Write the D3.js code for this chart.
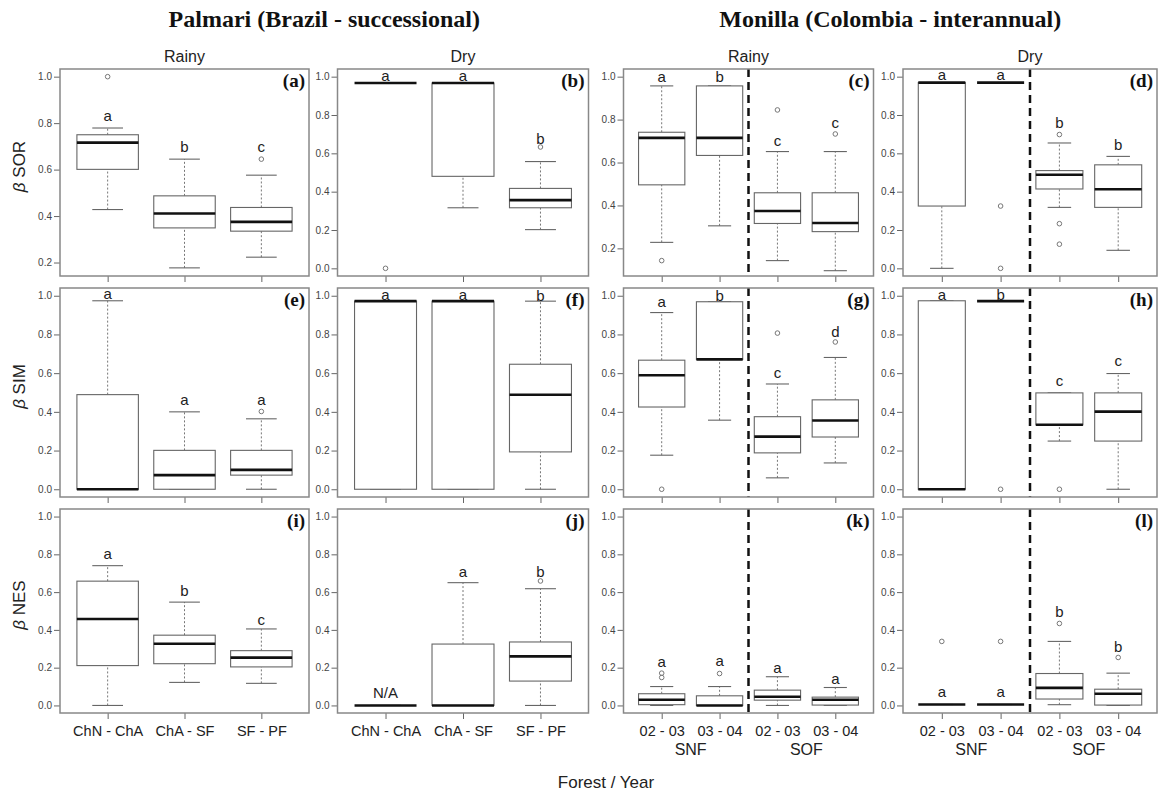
<!DOCTYPE html>
<html>
<head>
<meta charset="utf-8">
<script src="https://cdn.jsdelivr.net/npm/d3@7"></script>
<style>
  body { margin: 0; background: #fff; }
  text { font-family: "Liberation Sans", Arial, sans-serif; }
</style>
</head>
<body>
<div id="chart"></div>
<script>
// ---- data ----
const sites = ['Palmari (Brazil - successional)', 'Monilla (Colombia - interannual)'];
const seasons = ['Rainy', 'Dry', 'Rainy', 'Dry'];
const indices = ['SOR', 'SIM', 'NES'];
const panelTags = ['(a)', '(b)', '(c)', '(d)', '(e)', '(f)', '(g)', '(h)', '(i)', '(j)', '(k)', '(l)'];
const palmariPairs = ['ChN - ChA', 'ChA - SF', 'SF - PF'];
const monillaYears = ['02 - 03', '03 - 04', '02 - 03', '03 - 04'];
const monillaForests = ['SNF', 'SOF'];
const yTickValues = [0, 0.2, 0.4, 0.6, 0.8, 1.0];

// box stats: [lower whisker, q1, median, q3, upper whisker]
const boxA = [[0.428, 0.601, 0.716, 0.750, 0.779], [0.177, 0.349, 0.411, 0.487, 0.645], [0.223, 0.335, 0.375, 0.437, 0.576]];
const outA = [[1.0], [], [0.645]];
const tagA = [['a', 0.831], ['b', 0.699], ['c', 0.699]];

const boxB = [[0.967, 0.967, 0.967, 0.967, 0.967], [0.316, 0.48, 0.967, 0.967, 0.967], [0.202, 0.316, 0.356, 0.417, 0.557]];
const outB = [[0], [], [0.633]];
const tagB = [['a', 1.003], ['a', 1.003], ['b', 0.677]];

const boxC = [[0.228, 0.496, 0.715, 0.741, 0.957], [0.305, 0.633, 0.715, 0.957, 0.957], [0.143, 0.316, 0.374, 0.459, 0.651], [0.096, 0.278, 0.318, 0.459, 0.651]];
const outC = [[0.143], [], [0.845], [0.733]];
const tagC = [['a', 0.998], ['b', 0.998], ['c', 0.699], ['c', 0.784]];

const boxD = [[0, 0.325, 0.969, 0.969, 0.969], [0.969, 0.969, 0.969, 0.969, 0.969], [0.318, 0.414, 0.488, 0.51, 0.654], [0.094, 0.318, 0.413, 0.54, 0.584]];
const outD = [[], [0.325, 0], [0.698, 0.233, 0.126], []];
const tagD = [['a', 1.007], ['a', 1.007], ['b', 0.76], ['b', 0.643]];

const boxE = [[0, 0, 0, 0.489, 0.974], [0, 0, 0.073, 0.201, 0.4], [0, 0.073, 0.1, 0.201, 0.364]];
const outE = [[], [], [0.402]];
const tagE = [['a', 1.01], ['a', 0.459], ['a', 0.459]];

const boxF = [[0, 0, 0.972, 0.972, 0.972], [0, 0, 0.972, 0.972, 0.972], [0, 0.193, 0.488, 0.646, 0.972]];
const outF = [[], [], []];
const tagF = [['a', 1.003], ['a', 1.003], ['b', 1.0]];

const boxG = [[0.176, 0.425, 0.589, 0.667, 0.913], [0.357, 0.671, 0.671, 0.969, 0.969], [0.059, 0.188, 0.272, 0.375, 0.544], [0.136, 0.27, 0.355, 0.462, 0.681]];
const outG = [[0], [], [0.807], [0.761]];
const tagG = [['a', 0.969], ['b', 0.998], ['c', 0.603], ['d', 0.812]];

const boxH = [[0, 0, 0, 0.974, 0.974], [0.972, 0.972, 0.972, 0.972, 0.972], [0.249, 0.333, 0.333, 0.498, 0.498], [0, 0.249, 0.401, 0.498, 0.598]];
const outH = [[], [0], [0], []];
const tagH = [['a', 1.005], ['b', 1.003], ['c', 0.559], ['c', 0.664]];

const boxI = [[0, 0.211, 0.458, 0.658, 0.74], [0.122, 0.221, 0.327, 0.372, 0.547], [0.117, 0.204, 0.253, 0.29, 0.405]];
const outI = [[], [], []];
const tagI = [['a', 0.802], ['b', 0.604], ['c', 0.455]];

const boxJ = [[0, 0, 0, 0, 0], [0, 0, 0, 0.325, 0.65], [0, 0.129, 0.26, 0.336, 0.618]];
const outJ = [[], [], [0.659]];
const tagJ = [['N/A', 0.064], ['a', 0.705], ['b', 0.708]];

const boxK = [[0, 0.004, 0.03, 0.062, 0.1], [0, 0, 0, 0.051, 0.1], [0, 0.028, 0.046, 0.081, 0.152], [0, 0.002, 0.03, 0.044, 0.095]];
const outK = [[0.148, 0.171], [0.169], [], []];
const tagK = [['a', 0.229], ['a', 0.233], ['a', 0.2], ['a', 0.141]];

const boxL = [[0.005, 0.005, 0.005, 0.005, 0.005], [0.005, 0.005, 0.005, 0.005, 0.005], [0.004, 0.034, 0.093, 0.169, 0.339], [0, 0.002, 0.062, 0.086, 0.171]];
const outL = [[0.339], [0.339], [0.434], [0.254]];
const tagL = [['a', 0.072], ['a', 0.072], ['b', 0.494], ['b', 0.312]];

// y limits per panel (before R's 4% padding)
const yLimits = [[0.175, 1], [0, 1], [0.107, 1], [0, 1], [0, 1], [0, 1], [0, 1], [0, 1], [0, 1], [0, 1], [0, 1], [0, 1]];

const panels = [
  [boxA, outA, tagA], [boxB, outB, tagB], [boxC, outC, tagC], [boxD, outD, tagD],
  [boxE, outE, tagE], [boxF, outF, tagF], [boxG, outG, tagG], [boxH, outH, tagH],
  [boxI, outI, tagI], [boxJ, outJ, tagJ], [boxK, outK, tagK], [boxL, outL, tagL]
].map(([stats, out, tags], i) => ({stats, out, tags, ylim: yLimits[i], name: panelTags[i]}));

// ---- layout ----
const width = 1160, height = 793;
const colLeft = [60, 337.5, 623.5, 903];
const colWidth = [249, 251, 250, 254];
const rowTop = [69, 288, 509];
const rowHeight = [207, 209, 204];

const svg = d3.select('#chart').append('svg')
  .attr('width', width)
  .attr('height', height);

// site titles
[[0, 1], [2, 3]].forEach((cols, i) => {
  const cx = (colLeft[cols[0]] + colLeft[cols[1]] + colWidth[cols[1]]) / 2;
  svg.append('text')
    .attr('x', cx).attr('y', 27)
    .attr('text-anchor', 'middle')
    .style('font-family', '"Liberation Serif", "Times New Roman", serif')
    .style('font-weight', 'bold')
    .style('font-size', '24px')
    .attr('fill', '#111')
    .text(sites[i]);
});

// season titles
seasons.forEach((s, c) => {
  svg.append('text')
    .attr('x', colLeft[c] + colWidth[c] / 2).attr('y', 62)
    .attr('text-anchor', 'middle')
    .style('font-size', '16px')
    .attr('fill', '#222')
    .text(s);
});

// row labels (beta SOR / SIM / NES)
indices.forEach((name, r) => {
  const t = svg.append('text')
    .attr('transform', `translate(25,${rowTop[r] + rowHeight[r] / 2 - 6}) rotate(-90)`)
    .attr('text-anchor', 'middle')
    .style('font-size', '17px')
    .attr('fill', '#222');
  t.append('tspan').style('font-style', 'italic').text('\u03B2');
  t.append('tspan').text(' ' + name);
});

// x-axis title
svg.append('text')
  .attr('x', 606).attr('y', 788)
  .attr('text-anchor', 'middle')
  .style('font-size', '17px')
  .attr('fill', '#222')
  .text('Forest / Year');

panels.forEach((p, i) => {
  const row = Math.floor(i / 4), col = i % 4;
  drawPanel(svg.append('g').attr('class', 'panel'), p, row, col);
});

function drawPanel(g, p, row, col) {
  const left = colLeft[col], w = colWidth[col];
  const top = rowTop[row], h = rowHeight[row];
  const n = p.stats.length;
  const monilla = col >= 2;

  const x = d3.scaleLinear()
    .domain([0.5 - 0.04 * n, n + 0.5 + 0.04 * n])
    .range([left, left + w]);
  const span = p.ylim[1] - p.ylim[0];
  const y = d3.scaleLinear()
    .domain([p.ylim[0] - 0.04 * span, p.ylim[1] + 0.04 * span])
    .range([top + h, top]);

  // y axis
  const yAxis = g.append('g')
    .attr('transform', `translate(${left},0)`)
    .call(d3.axisLeft(y)
      .tickValues(yTickValues.filter(v => v >= y.domain()[0] && v <= y.domain()[1]))
      .tickFormat(d3.format('.1f'))
      .tickSize(6)
      .tickPadding(2));
  yAxis.select('.domain').remove();
  yAxis.selectAll('line').attr('stroke', '#666');
  yAxis.selectAll('text')
    .style('font-family', '"Liberation Sans", Arial, sans-serif')
    .style('font-size', '10px')
    .attr('fill', '#444');

  // x axis
  let labels = () => '';
  if (row === 2) labels = d => (monilla ? monillaYears : palmariPairs)[d - 1];
  const xAxis = g.append('g')
    .attr('transform', `translate(0,${top + h})`)
    .call(d3.axisBottom(x)
      .tickValues(d3.range(1, n + 1))
      .tickFormat(labels)
      .tickSize(6)
      .tickPadding(7));
  xAxis.select('.domain').remove();
  xAxis.selectAll('line').attr('stroke', '#666');
  xAxis.selectAll('text')
    .style('font-family', '"Liberation Sans", Arial, sans-serif')
    .style('font-size', '14.5px')
    .attr('fill', '#222');

  if (row === 2 && monilla) {
    g.selectAll('text.forest')
      .data(monillaForests)
      .enter()
      .append('text')
      .attr('class', 'forest')
      .attr('x', (d, k) => x(1.5 + 2 * k))
      .attr('y', 755)
      .attr('text-anchor', 'middle')
      .style('font-size', '16px')
      .attr('fill', '#222')
      .text(d => d);
  }

  // boxes
  const boxes = g.selectAll('g.box')
    .data(p.stats)
    .enter()
    .append('g')
    .attr('class', 'box');

  const whisker = (sel, a, b) => sel.append('line')
    .attr('x1', (d, k) => x(k + 1)).attr('x2', (d, k) => x(k + 1))
    .attr('y1', d => y(d[a])).attr('y2', d => y(d[b]))
    .attr('stroke', '#777').attr('stroke-width', 1)
    .attr('stroke-dasharray', '2,2');
  whisker(boxes, 0, 1);
  whisker(boxes, 3, 4);

  [0, 4].forEach(j => {
    boxes.append('line')
      .attr('x1', (d, k) => x(k + 1 - 0.2)).attr('x2', (d, k) => x(k + 1 + 0.2))
      .attr('y1', d => y(d[j])).attr('y2', d => y(d[j]))
      .attr('stroke', '#666').attr('stroke-width', 1.1);
  });

  boxes.append('rect')
    .attr('x', (d, k) => x(k + 1 - 0.4))
    .attr('width', x(1.4) - x(0.6))
    .attr('y', d => y(d[3]))
    .attr('height', d => y(d[1]) - y(d[3]))
    .attr('fill', '#fff')
    .attr('stroke', '#666')
    .attr('stroke-width', 1.1);

  boxes.append('line')
    .attr('x1', (d, k) => x(k + 1 - 0.4)).attr('x2', (d, k) => x(k + 1 + 0.4))
    .attr('y1', d => y(d[2])).attr('y2', d => y(d[2]))
    .attr('stroke', '#111').attr('stroke-width', 2.6);

  // outliers
  p.out.forEach((vals, k) => {
    g.selectAll(null)
      .data(vals)
      .enter()
      .append('circle')
      .attr('cx', x(k + 1))
      .attr('cy', d => y(d))
      .attr('r', 2.3)
      .attr('fill', 'none')
      .attr('stroke', '#777')
      .attr('stroke-width', 1);
  });

  // significance letters
  g.selectAll('text.letter')
    .data(p.tags)
    .enter()
    .append('text')
    .attr('class', 'letter')
    .attr('x', (d, k) => x(k + 1))
    .attr('y', d => y(d[1]) + 5)
    .attr('text-anchor', 'middle')
    .style('font-size', '15px')
    .attr('fill', '#222')
    .text(d => d[0]);

  // forest separator
  if (monilla) {
    g.append('line')
      .attr('x1', x(2.5)).attr('x2', x(2.5))
      .attr('y1', top).attr('y2', top + h)
      .attr('stroke', '#111').attr('stroke-width', 2.5)
      .attr('stroke-dasharray', '8,5');
  }

  // panel frame
  g.append('rect')
    .attr('x', left).attr('y', top)
    .attr('width', w).attr('height', h)
    .attr('fill', 'none')
    .attr('stroke', '#888')
    .attr('stroke-width', 1.5);

  g.append('text')
    .attr('x', left + w - 4).attr('y', top + 18)
    .attr('text-anchor', 'end')
    .style('font-family', '"Liberation Serif", "Times New Roman", serif')
    .style('font-weight', 'bold')
    .style('font-size', '19px')
    .attr('fill', '#111')
    .text(p.name);
}
</script>
</body>
</html>
